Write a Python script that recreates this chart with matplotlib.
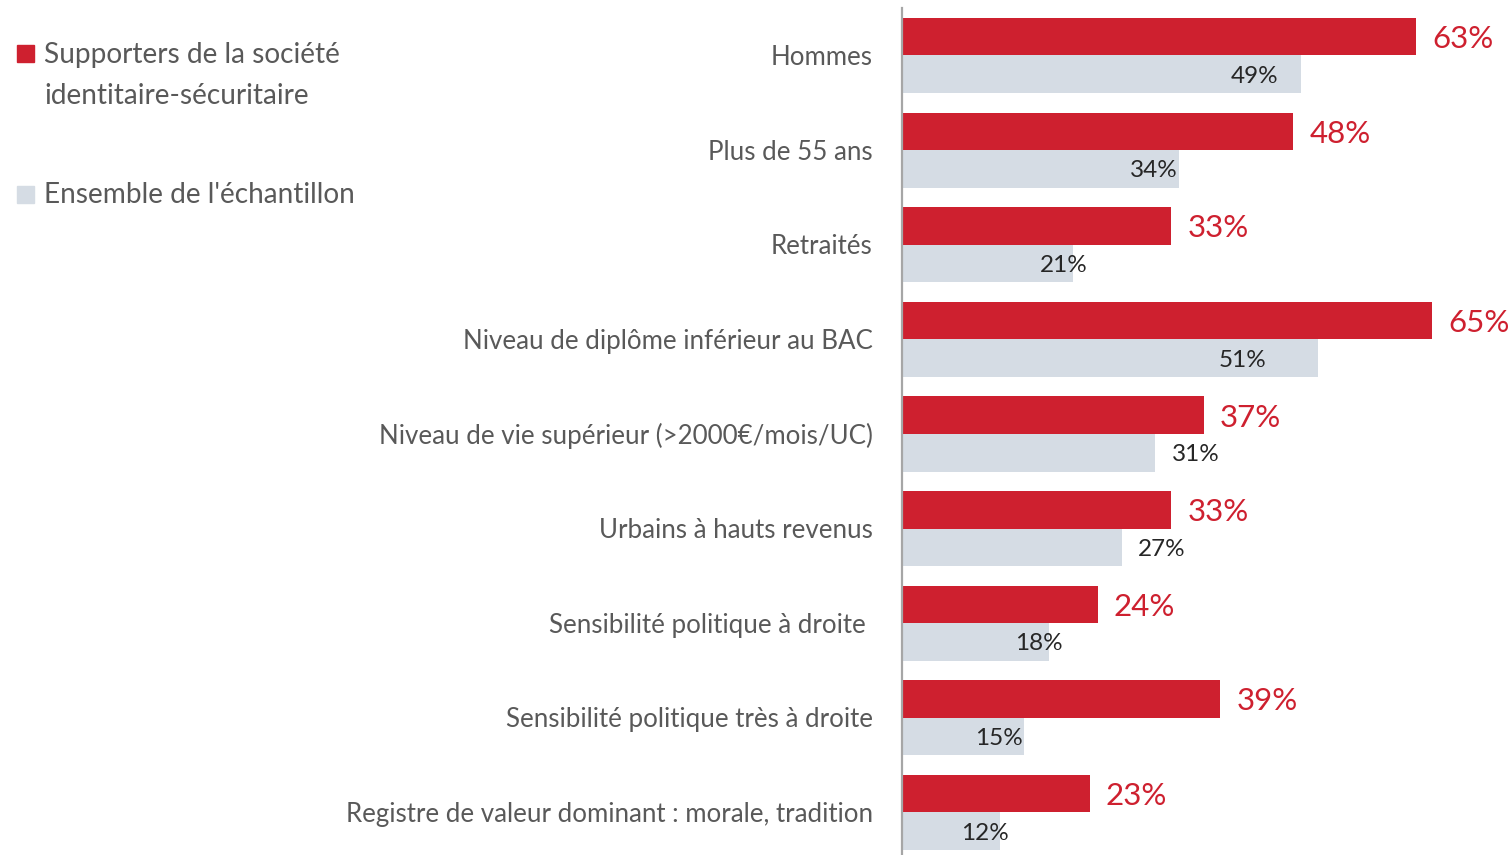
import matplotlib
matplotlib.use("Agg")
import matplotlib.pyplot as plt
from matplotlib.patches import Rectangle

plt.rcParams['font.family'] = ['Lato', 'DejaVu Sans']

categories = [
    "Hommes",
    "Plus de 55 ans",
    "Retraités",
    "Niveau de diplôme inférieur au BAC",
    "Niveau de vie supérieur (>2000€/mois/UC)",
    "Urbains à hauts revenus",
    "Sensibilité politique à droite ",
    "Sensibilité politique très à droite",
    "Registre de valeur dominant : morale, tradition",
]
supporters = [63, 48, 33, 65, 37, 33, 24, 39, 23]
ensemble = [49, 34, 21, 51, 31, 27, 18, 15, 12]
# where the grey value labels sit, relative to the bar end (in %)
ensemble_label_shift = [-5.8, -3.1, -1.2, -9.2, 5.0, 4.9, -1.2, -3.1, -1.8]

red = "#CE202F"
grey = "#D5DCE4"
text_col = "#595959"

fig = plt.figure(figsize=(15.11, 8.55), dpi=100)
ax = fig.add_axes([902 / 1511, 0, 609 / 1511, 847 / 855])

h = 0.397
ypos = list(range(len(categories)))
ax.barh([y - h / 2 for y in ypos], supporters, height=h, color=red, edgecolor="none")
ax.barh([y + h / 2 for y in ypos], ensemble, height=h, color=grey, edgecolor="none")

for y, v in zip(ypos, supporters):
    ax.text(v + 2, y - h / 2 + 0.025, f"{v}%", color=red, fontsize=22.5,
            va="center", ha="left")
for y, v, s in zip(ypos, ensemble, ensemble_label_shift):
    ax.text(v + s, y + h / 2 + 0.02, f"{v}%", color="#262626", fontsize=17.5,
            va="center", ha="center")

for y, c in zip(ypos, categories):
    ax.text(-3.6, y + 0.02, c, color=text_col, fontsize=18.6, ha="right", va="center")

ax.set_xlim(0, 74.7)
ax.set_ylim(8.45, -0.502)
for side in ["top", "right", "bottom"]:
    ax.spines[side].set_visible(False)
ax.spines["left"].set_color("#A6A6A6")
ax.spines["left"].set_linewidth(1.6)
ax.set_xticks([])
ax.set_yticks([])
ax.patch.set_alpha(0)

# legend
fig.patches.append(Rectangle((17 / 1511, 1 - 62 / 855), 17 / 1511, 17 / 855,
                             transform=fig.transFigure, color=red))
fig.patches.append(Rectangle((17 / 1511, 1 - 203 / 855), 17 / 1511, 17 / 855,
                             transform=fig.transFigure, color=grey))
fig.text(44 / 1511, 1 - 55 / 855, "Supporters de la société", fontsize=20.2,
         color=text_col, va="center")
fig.text(44 / 1511, 1 - 96 / 855, "identitaire-sécuritaire", fontsize=20.2,
         color=text_col, va="center")
fig.text(44 / 1511, 1 - 195 / 855, "Ensemble de l'échantillon", fontsize=20.2,
         color=text_col, va="center")

fig.savefig("out.png", dpi=100)
